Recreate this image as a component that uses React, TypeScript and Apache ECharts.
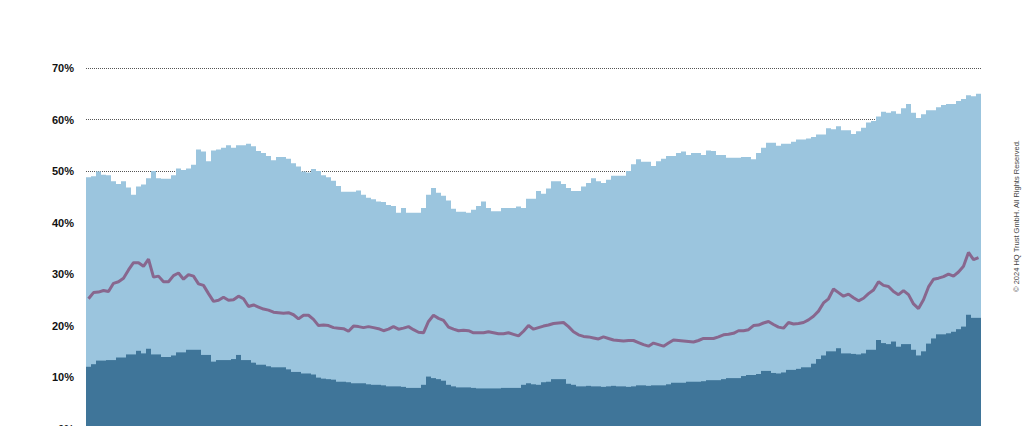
import React, { useEffect, useRef } from "react";
import * as echarts from "echarts";

// Upper (light blue) share, % — one value per period
const upperShare: number[] = [
  48.8, 49.0, 49.9, 49.3, 49.2, 48.0, 47.5, 48.0, 46.8, 45.4,
  47.0, 47.4, 48.6, 50.0, 48.6, 48.5, 48.5, 49.2, 50.5, 50.2,
  50.5, 51.2, 54.2, 53.8, 51.9, 54.0, 54.2, 54.5, 55.0, 54.5,
  55.0, 55.0, 55.3, 54.8, 53.9, 53.5, 52.9, 52.1, 52.7, 52.7,
  52.4, 51.5, 50.9, 49.9, 49.7, 50.4, 50.0, 49.2, 48.8, 48.1,
  47.1, 46.0, 46.0, 46.0, 46.2, 45.4, 44.8, 44.5, 44.1, 44.0,
  43.4, 43.2, 41.9, 42.8, 41.9, 41.9, 41.9, 42.8, 45.4, 46.7,
  45.8, 45.2, 44.3, 42.7, 42.1, 42.1, 41.9, 42.5, 43.2, 44.1,
  42.8, 42.2, 42.2, 42.8, 42.8, 42.8, 43.1, 42.8, 44.6, 44.6,
  46.1, 45.6, 46.6, 48.0, 48.0, 47.5, 46.7, 46.1, 46.1, 47.0,
  47.7, 48.6, 48.0, 47.7, 48.3, 49.1, 49.1, 49.1, 50.0, 51.3,
  52.3, 51.8, 51.8, 51.0, 51.9, 52.4, 52.9, 52.9, 53.5, 53.8,
  53.1, 53.5, 53.5, 53.1, 54.0, 53.9, 53.1, 53.1, 52.6, 52.6,
  52.6, 52.7, 52.7, 52.3, 53.5, 54.5, 55.5, 55.5, 54.9, 55.3,
  55.3, 55.7, 56.1, 56.1, 56.3, 56.6, 57.1, 57.1, 58.3, 58.1,
  58.7, 57.9, 57.9, 57.2, 57.7, 58.4, 59.4, 59.7, 60.6, 61.5,
  61.3, 61.6, 61.1, 62.2, 63.0, 61.3, 60.3, 61.0, 61.8, 61.8,
  62.4, 62.8, 63.0, 63.0, 63.6, 64.0, 64.7, 64.5, 65.0,
];

// Lower (dark blue) share, %
const lowerShare: number[] = [
  12.0, 12.5, 13.2, 13.2, 13.3, 13.3, 13.8, 13.8, 14.4, 14.4,
  15.1, 14.6, 15.5, 14.4, 14.4, 13.9, 13.9, 14.2, 14.8, 14.8,
  15.3, 15.3, 15.3, 14.3, 14.3, 13.0, 13.3, 13.3, 13.3, 13.5,
  14.3, 13.3, 13.3, 12.8, 12.4, 12.4, 12.1, 11.9, 11.9, 11.9,
  11.5, 11.0, 11.0, 10.7, 10.7, 10.5, 9.9, 9.7, 9.6, 9.5,
  9.1, 9.1, 9.0, 8.8, 8.8, 8.8, 8.6, 8.5, 8.5, 8.4,
  8.2, 8.2, 8.2, 8.1, 7.9, 7.9, 7.9, 8.5, 10.1, 9.8,
  9.6, 9.3, 8.5, 8.2, 8.0, 8.0, 8.0, 7.9, 7.8, 7.8,
  7.8, 7.8, 7.8, 7.9, 7.9, 7.9, 7.9, 8.5, 8.8, 8.6,
  8.5, 9.0, 9.1, 9.6, 9.6, 9.6, 8.7, 8.5, 8.2, 8.2,
  8.3, 8.2, 8.2, 8.1, 8.2, 8.3, 8.2, 8.2, 8.1, 8.2,
  8.4, 8.4, 8.3, 8.4, 8.4, 8.4, 8.6, 8.9, 8.9, 8.9,
  9.1, 9.1, 9.1, 9.2, 9.4, 9.4, 9.4, 9.6, 9.8, 9.8,
  9.8, 10.2, 10.4, 10.4, 10.6, 11.2, 11.2, 10.8, 10.7, 10.9,
  11.4, 11.4, 11.6, 11.9, 11.9, 12.6, 13.5, 14.2, 15.0, 15.0,
  15.6, 14.6, 14.6, 14.5, 14.4, 14.6, 15.3, 15.3, 17.2, 16.6,
  16.4, 16.9, 15.9, 16.4, 16.4, 15.3, 14.2, 15.0, 16.5, 17.5,
  18.3, 18.3, 18.5, 18.8, 19.3, 19.8, 22.1, 21.5, 21.5,
];

// Purple line, %
const lineShare: number[] = [
  25.2, 26.4, 26.5, 26.8, 26.6, 28.2, 28.5, 29.2, 30.8, 32.2,
  32.2, 31.5, 32.9, 29.4, 29.6, 28.5, 28.5, 29.7, 30.2, 29.0,
  29.9, 29.6, 28.1, 27.8, 26.2, 24.7, 24.9, 25.5, 24.9, 25.0,
  25.7, 25.2, 23.7, 24.0, 23.6, 23.2, 23.0, 22.6, 22.5, 22.4,
  22.5, 22.1, 21.3, 22.0, 22.0, 21.2, 20.0, 20.1, 20.0, 19.6,
  19.5, 19.4, 18.9, 19.9, 19.8, 19.6, 19.8, 19.6, 19.4, 19.0,
  19.3, 19.8, 19.3, 19.5, 19.8, 19.2, 18.7, 18.6, 20.8, 22.0,
  21.4, 21.0, 19.7, 19.3, 19.0, 19.1, 19.0, 18.6, 18.6, 18.6,
  18.8, 18.6, 18.4, 18.4, 18.6, 18.3, 18.0, 18.9, 20.0, 19.3,
  19.6, 19.9, 20.1, 20.4, 20.5, 20.6, 19.8, 18.8, 18.2, 17.9,
  17.8, 17.6, 17.4, 17.8, 17.5, 17.2, 17.1, 17.0, 17.1, 17.1,
  16.7, 16.3, 16.0, 16.6, 16.3, 16.0, 16.6, 17.2, 17.1, 17.0,
  16.9, 16.8, 17.1, 17.5, 17.5, 17.5, 17.8, 18.2, 18.3, 18.5,
  19.0, 19.0, 19.2, 20.0, 20.1, 20.5, 20.8, 20.2, 19.7, 19.5,
  20.6, 20.3, 20.4, 20.6, 21.1, 21.8, 22.8, 24.4, 25.2, 27.1,
  26.4, 25.7, 26.1, 25.4, 24.8, 25.3, 26.2, 26.9, 28.5, 27.8,
  27.6, 26.6, 26.0, 26.8, 26.0, 24.2, 23.3, 25.0, 27.5, 29.0,
  29.2, 29.5, 30.0, 29.6, 30.4, 31.5, 34.2, 32.8, 33.2,
];

const periods: string[] = upperShare.map((_, i) => String(i + 1));
const yTicks = { min: 0, max: 70, interval: 10 };
const copyright = "© 2024 HQ Trust GmbH. All Rights Reserved.";

export default function App() {
  const ref = useRef<HTMLDivElement>(null);

  useEffect(() => {
    if (!ref.current) return;
    const chart = echarts.init(ref.current, null, { renderer: "svg" });
    chart.setOption({
      animation: false,
      backgroundColor: "#ffffff",
      grid: { left: 86, right: 43, top: 68, bottom: 11.4 },
      xAxis: {
        type: "category",
        data: periods,
        boundaryGap: true,
        show: false,
      },
      yAxis: {
        type: "value",
        min: yTicks.min,
        max: yTicks.max,
        interval: yTicks.interval,
        axisLine: { show: false },
        axisTick: { show: false },
        axisLabel: {
          formatter: "{value}%",
          color: "#111111",
          fontFamily: "Liberation Sans, Arial, sans-serif",
          fontWeight: "bold",
          fontSize: 11,
          margin: 12,
        },
        splitLine: {
          show: true,
          lineStyle: { type: [1, 1], color: "#555555", width: 1 },
        },
      },
      series: [
        {
          type: "bar",
          data: upperShare,
          barCategoryGap: "0%",
          barGap: "-100%",
          itemStyle: { color: "#9bc5de" },
          silent: true,
        },
        {
          type: "bar",
          data: lowerShare,
          barCategoryGap: "0%",
          barGap: "-100%",
          itemStyle: { color: "#3f7599" },
          silent: true,
        },
        {
          type: "line",
          data: lineShare,
          symbol: "none",
          z: 5,
          lineStyle: { color: "#88678e", width: 3 },
          silent: true,
        },
      ],
      graphic: [
        {
          type: "text",
          x: 1016,
          y: 216,
          rotation: Math.PI / 2,
          style: {
            text: copyright,
            fill: "#444444",
            fontSize: 7.5,
            fontFamily: "Liberation Sans, Arial, sans-serif",
            align: "center",
            verticalAlign: "middle",
          },
        },
      ],
    });
    return () => chart.dispose();
  }, []);

  return (
    <div
      ref={ref}
      style={{ position: "fixed", left: 0, top: 0, width: 1024, height: 440 }}
    />
  );
}
